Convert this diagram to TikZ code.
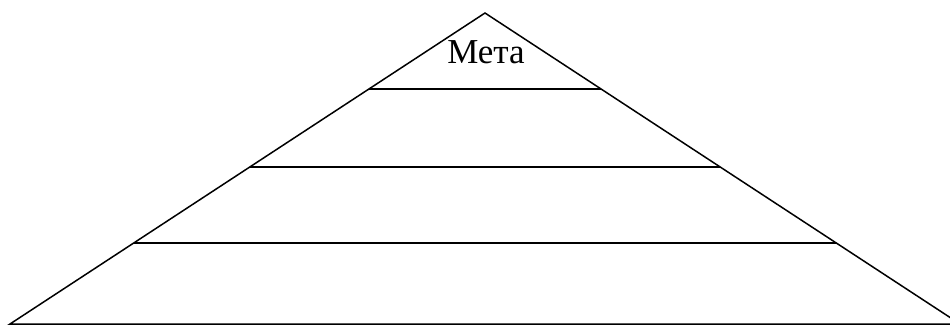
\documentclass[tikz,border=0pt]{standalone}
\usepackage{fontspec}
\setmainfont{Liberation Serif}
\usetikzlibrary{calc}

\begin{document}
\begin{tikzpicture}[x=1pt,y=-1pt,line width=1.5pt]
                    \useasboundingbox (0,0) rectangle (950,327);
                    \coordinate (apex) at (485,13);
                    \coordinate (bl) at (10,324);
                    \coordinate (br) at (960,324);
                    \draw[line join=miter] (bl) -- (apex) -- (br) -- cycle;
                    \draw ($(apex)!0.2444!(bl)$) -- ($(apex)!0.2444!(br)$);
                    \draw ($(apex)!0.4952!(bl)$) -- ($(apex)!0.4952!(br)$);
                    \draw ($(apex)!0.7395!(bl)$) -- ($(apex)!0.7395!(br)$);
                    \node[font=\fontsize{35}{40}\selectfont] (goal) at (486,52) {Мета};
                \end{tikzpicture}
\end{document}
